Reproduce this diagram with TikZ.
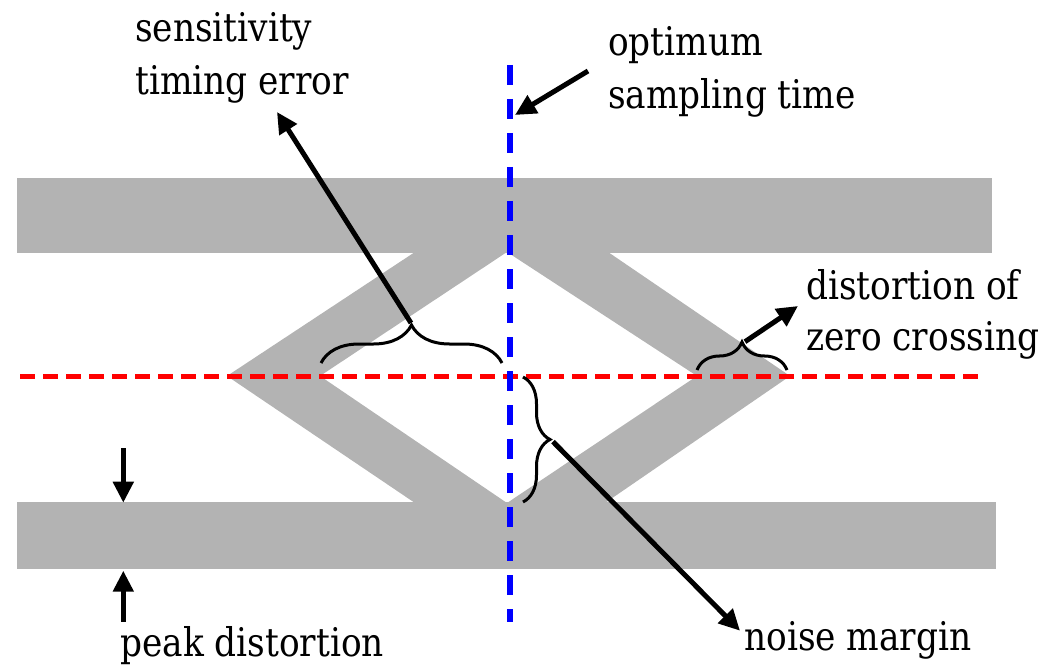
\documentclass[tikz,border=0pt]{standalone}
\usepackage{fontspec}
\newfontfamily\lblfont{DejaVu Serif}[FakeStretch=0.87]
\usetikzlibrary{arrows.meta,decorations.pathreplacing}
\definecolor{eyegray}{RGB}{179,179,179}
\begin{document}
\begin{tikzpicture}[x=1pt,y=1pt,
  band/.style={fill=eyegray,draw=none},
  lbl/.style={anchor=base west,inner sep=0pt,font=\lblfont\fontsize{39.5}{48}\selectfont},
  callout/.style={line width=5pt,-{Triangle[length=21pt,width=20pt]}},
  bracepath/.style={line width=3pt,decorate,decoration={brace,amplitude=#1}},
  zeroline/.style={red,line width=5pt,dash pattern=on 15pt off 8pt},
  sampleline/.style={blue,line width=6pt,dash pattern=on 20pt off 14pt},
]
\useasboundingbox (0,0) rectangle (1043,-668);
% bands
\fill[band] (17,-178) rectangle (992,-252.7);
\fill[band] (17,-502) rectangle (996,-568.7);
% eye
\fill[band,even odd rule]
  (227,-376) -- (415,-252) -- (608,-252) -- (790,-376) -- (605,-503) -- (415,-503) -- cycle
  (320,-376) -- (507,-252) -- (697,-376) -- (507,-503) -- cycle;
% reference lines
\coordinate (zl) at (20,-376);
\coordinate (zr) at (983,-376);
\draw[zeroline] (zl) -- (zr);
\coordinate (st) at (510,-65);
\coordinate (sb) at (510,-622);
\draw[sampleline] (st) -- (sb);
% braces
\coordinate (b1l) at (321,-363);
\coordinate (b1r) at (502,-363);
\draw[bracepath=38pt] (b1l) -- (b1r);
\coordinate (b2l) at (697,-370);
\coordinate (b2r) at (787,-370);
\draw[bracepath=28pt] (b2l) -- (b2r);
\coordinate (b3t) at (523,-377);
\coordinate (b3b) at (523,-502);
\draw[bracepath=27pt] (b3t) -- (b3b);
% labels
\node[lbl] (sens1) at (135,-41.7) {sensitivity};
\node[lbl] (sens2) at (135,-95) {timing error};
\node[lbl] (opt1) at (608,-56) {optimum};
\node[lbl] (opt2) at (608,-108.3) {sampling time};
\node[lbl] (dist1) at (806,-299.3) {distortion of};
\node[lbl] (dist2) at (806,-350) {zero crossing};
\node[lbl] (peak) at (120,-656.7) {peak distortion};
\node[lbl] (noise) at (744,-650) {noise margin};
% callout arrows
\coordinate (a1s) at (411,-323);
\coordinate (a1e) at (277,-112);
\draw[callout] (a1s) -- (a1e);
\coordinate (a2s) at (588,-71);
\coordinate (a2e) at (515,-115);
\draw[callout] (a2s) -- (a2e);
\coordinate (a3s) at (745,-341.7);
\coordinate (a3e) at (798,-306);
\draw[callout] (a3s) -- (a3e);
\coordinate (a4s) at (553,-441.7);
\coordinate (a4e) at (740,-630.7);
\draw[callout] (a4s) -- (a4e);
\coordinate (a5s) at (123.3,-448);
\coordinate (a5e) at (123.3,-502.7);
\draw[callout] (a5s) -- (a5e);
\coordinate (a6s) at (123.3,-621.7);
\coordinate (a6e) at (123.3,-570.7);
\draw[callout] (a6s) -- (a6e);
\end{tikzpicture}
\end{document}
